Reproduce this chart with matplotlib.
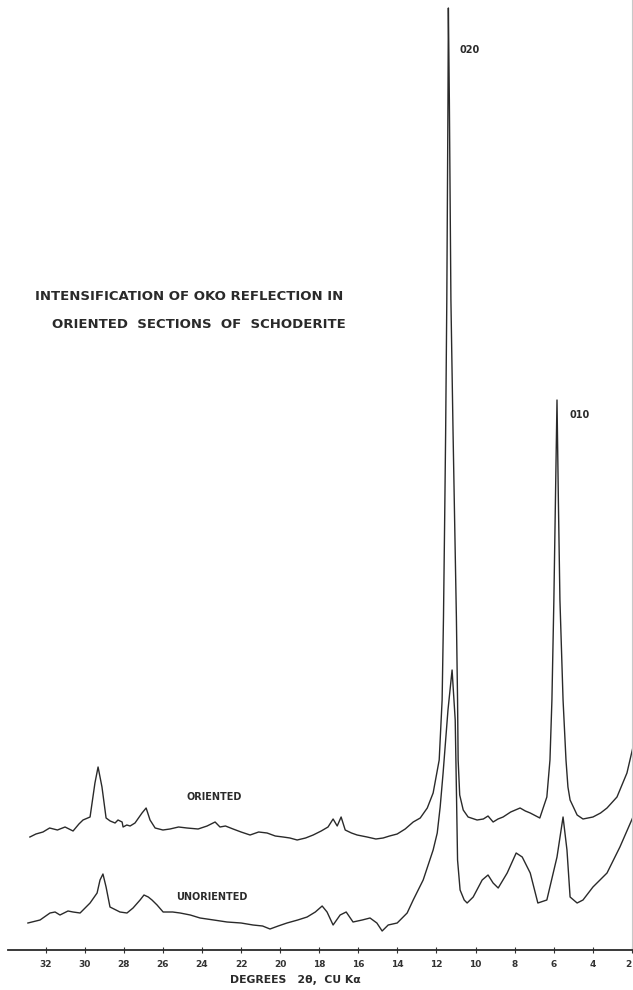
import matplotlib
matplotlib.use("Agg")
import matplotlib.pyplot as plt

# oriented section trace (degrees 2-theta, relative intensity)
oriented_2theta = [32.81, 32.50, 32.14, 31.80, 31.40, 31.01, 30.60, 30.30, 30.09, 29.73,
                   29.48, 29.32, 29.12, 28.91, 28.70, 28.45, 28.30, 28.09, 28.04, 27.85,
                   27.68, 27.43, 27.07, 26.86, 26.66, 26.40, 26.00, 25.64, 25.20, 24.77,
                   24.20, 23.74, 23.33, 23.08, 22.80, 22.41, 22.00, 21.54, 21.10, 20.67,
                   20.25, 19.85, 19.50, 19.13, 18.70, 18.31, 17.90, 17.55, 17.29, 17.08,
                   16.88, 16.67, 16.35, 16.06, 15.55, 15.10, 14.73, 14.40, 14.01, 13.60,
                   13.19, 12.83, 12.47, 12.17, 11.86, 11.71, 11.64, 11.58, 11.53, 11.47,
                   11.44, 11.41, 11.39, 11.34, 11.30, 11.26, 11.15, 11.07, 10.98, 10.92,
                   10.89, 10.81, 10.63, 10.38, 9.92, 9.60, 9.36, 9.10, 8.85, 8.59,
                   8.20, 7.72, 7.45, 7.20, 6.71, 6.35, 6.19, 6.09, 5.99, 5.91,
                   5.83, 5.76, 5.68, 5.52, 5.37, 5.27, 5.16, 4.80, 4.50, 3.99,
                   3.60, 3.27, 2.76, 2.25, 1.94]
oriented_int = [113, 116, 118, 122, 120, 123, 119, 126, 130, 133,
                167, 183, 163, 132, 129, 127, 130, 128, 123, 125,
                124, 127, 137, 142, 130, 122, 120, 121, 123, 122,
                121, 124, 128, 123, 124, 121, 118, 115, 118, 117,
                114, 113, 112, 110, 112, 115, 119, 123, 131, 124,
                133, 120, 117, 115, 113, 111, 112, 114, 116, 121,
                128, 132, 142, 157, 190, 250, 333, 430, 517, 650,
                750, 850, 942, 850, 750, 650, 517, 430, 333, 250,
                190, 155, 140, 133, 130, 131, 134, 128, 131, 133,
                138, 142, 139, 137, 132, 153, 190, 250, 350, 450,
                550, 450, 350, 250, 190, 163, 150, 135, 131, 133,
                137, 142, 153, 177, 203]

# unoriented section trace
unoriented_2theta = [32.91, 32.29, 31.78, 31.52, 31.27, 30.86, 30.60, 30.24, 29.73, 29.37,
                     29.22, 29.07, 28.91, 28.71, 28.20, 27.84, 27.53, 27.17, 26.97, 26.75,
                     26.56, 26.30, 25.99, 25.50, 25.12, 24.60, 24.10, 23.40, 22.72, 22.00,
                     21.39, 20.90, 20.52, 20.10, 19.65, 19.10, 18.62, 18.20, 17.85, 17.60,
                     17.29, 16.93, 16.62, 16.27, 15.80, 15.40, 15.05, 14.78, 14.47, 14.01,
                     13.50, 13.19, 12.68, 12.17, 11.96, 11.81, 11.66, 11.41, 11.20, 11.04,
                     10.97, 10.92, 10.79, 10.58, 10.43, 10.12, 9.66, 9.36, 9.10, 8.84,
                     8.38, 7.92, 7.61, 7.20, 6.81, 6.35, 5.83, 5.52, 5.32, 5.16,
                     4.80, 4.50, 3.99, 3.27, 2.61, 1.94]
unoriented_int = [27, 30, 37, 38, 35, 39, 38, 37, 47, 57,
                  70, 76, 63, 43, 38, 37, 42, 50, 55, 53,
                  50, 45, 38, 38, 37, 35, 32, 30, 28, 27,
                  25, 24, 21, 24, 27, 30, 33, 38, 44, 38,
                  25, 35, 38, 28, 30, 32, 27, 19, 25, 27,
                  37, 50, 70, 100, 117, 143, 177, 240, 280, 230,
                  150, 90, 60, 50, 47, 53, 70, 75, 67, 62,
                  77, 97, 93, 77, 47, 50, 93, 133, 100, 53,
                  47, 50, 63, 77, 103, 133]

ticks = [32, 30, 28, 26, 24, 22, 20, 18, 16, 14, 12, 10, 8, 6, 4, 2]

fig = plt.figure(figsize=(6.33, 9.9), dpi=100)
ax = fig.add_axes([8 / 633, 40 / 990, 625 / 633, 950 / 990])

ax.plot(oriented_2theta, oriented_int, color="#2a2a2a", lw=1.0)
ax.plot(unoriented_2theta, unoriented_int, color="#2a2a2a", lw=1.0)
ax.axvline(2.0, color="#c8c8c8", lw=0.8)

ax.set_xlim(33.93, 1.94)
ax.set_ylim(0, 950)
for s in ["top", "left", "right"]:
    ax.spines[s].set_visible(False)
ax.spines["bottom"].set_linewidth(1.3)
ax.spines["bottom"].set_color("#2a2a2a")
ax.set_yticks([])
ax.set_xticks(ticks)
ax.set_xticklabels([str(t) for t in ticks], fontsize=6.5, fontweight="bold", color="#333333")
ax.get_xticklabels()[-1].set_horizontalalignment("right")
ax.tick_params(axis="x", direction="inout", length=4, width=0.8, pad=5, colors="#333333")

txt = dict(fontweight="bold", color="#2a2a2a")
fig.text(35 / 633, 1 - 297 / 990, "INTENSIFICATION OF OKO REFLECTION IN", fontsize=9.5, va="center", ha="left", **txt)
fig.text(52 / 633, 1 - 324 / 990, "ORIENTED  SECTIONS  OF  SCHODERITE", fontsize=9.5, va="center", ha="left", **txt)
ax.text(23.38, 950 - 797, "ORIENTED", fontsize=7, ha="center", va="center", **txt)
ax.text(23.48, 950 - 897, "UNORIENTED", fontsize=7, ha="center", va="center", **txt)
ax.text(10.8, 950 - 50, "020", fontsize=7, ha="left", va="center", **txt)
ax.text(5.2, 950 - 415, "010", fontsize=7, ha="left", va="center", **txt)
fig.text(295 / 633, 1 - 980 / 990, "DEGREES   2θ,  CU Kα", fontsize=7.8, ha="center", va="center", **txt)

fig.savefig("out.png", dpi=100)
